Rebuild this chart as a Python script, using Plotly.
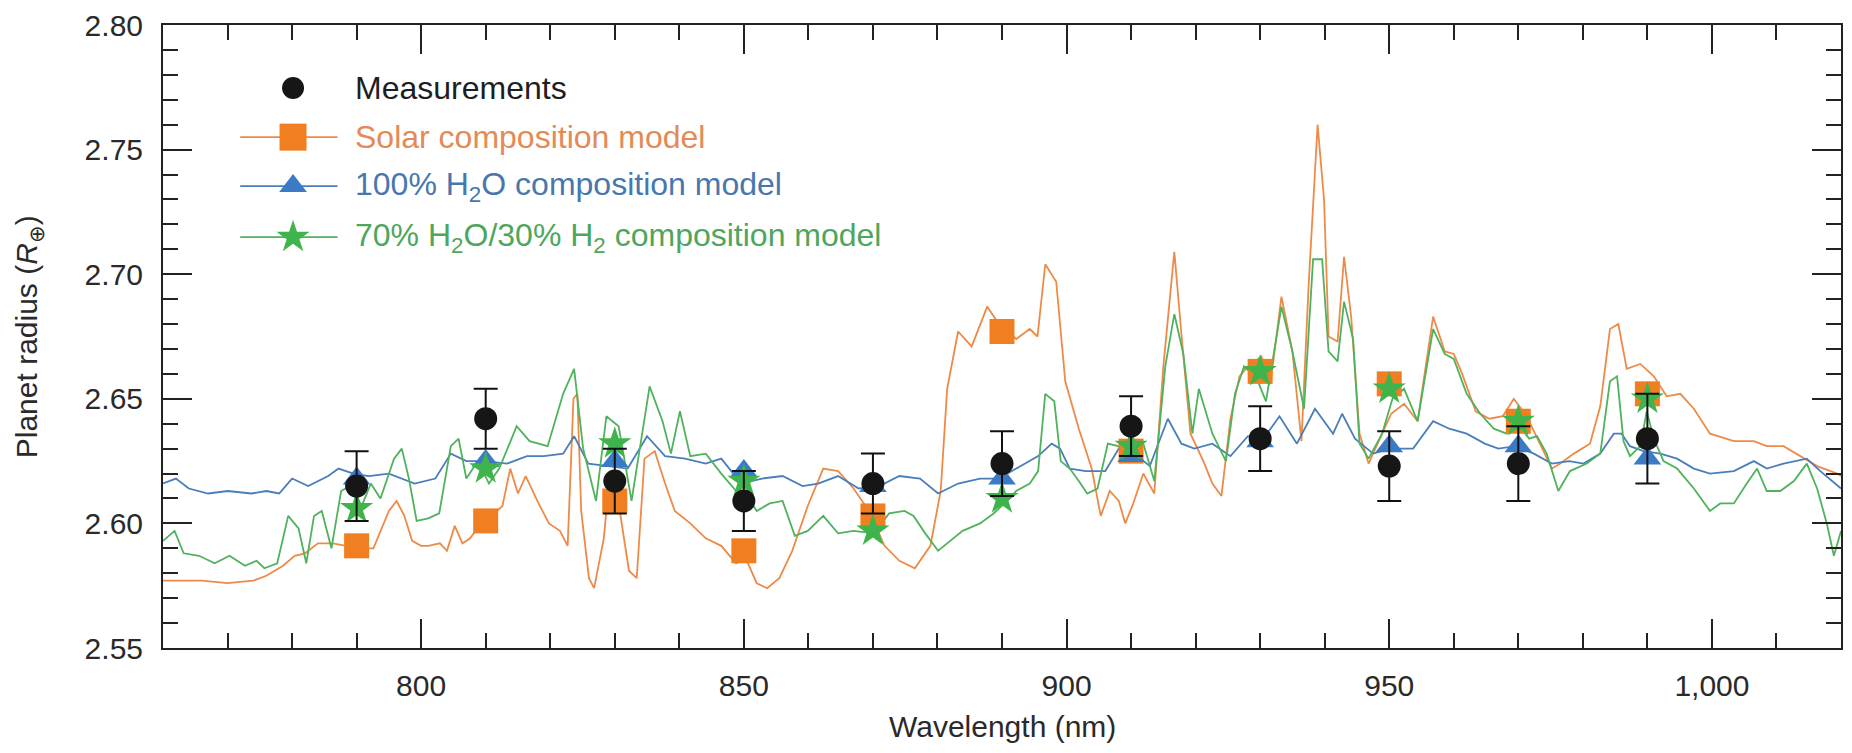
import plotly.graph_objects as go

# ---------------- data ----------------
meas_x = [790, 810, 830, 850, 870, 890, 910, 930, 950, 970, 990]
meas_y = [2.615, 2.642, 2.617, 2.609, 2.616, 2.624, 2.639, 2.634, 2.623, 2.624, 2.634]
meas_err = [0.014, 0.012, 0.013, 0.012, 0.012, 0.013, 0.012, 0.013, 0.014, 0.015, 0.018]

solar_pts = [2.591, 2.601, 2.609, 2.589, 2.603, 2.677, 2.629, 2.661, 2.656, 2.641, 2.652]
h2o_pts = [2.618, 2.625, 2.625, 2.621, 2.615, 2.618, 2.627, 2.633, 2.631, 2.631, 2.626]
mix_pts = [2.606, 2.622, 2.632, 2.617, 2.597, 2.610, 2.631, 2.661, 2.654, 2.641, 2.650]

solar_wl = [760, 766, 770, 774, 776, 778.6, 780.4, 782, 784, 786.3, 788.4, 790.5, 792.6, 795, 796.2,
            797.4, 798.6, 800, 801.1, 802.9, 804, 805.2, 806.4, 807.6, 809.2, 810.9, 812.6, 813.8, 815,
            816.2, 818, 819.8, 821.5, 822.7, 823.6, 824.2, 824.8, 826, 826.8, 828.3, 829.1, 830.6, 832.2,
            833.4, 834.6, 836.2, 837.8, 839.3, 841.7, 844.1, 846.5, 848.8, 850.3, 852, 853.6, 855.5, 857.5,
            859.9, 862.3, 864.6, 867, 869.4, 871.8, 874.1, 876.5, 878.9, 880.5, 881.5, 883.2, 885.3, 887.7,
            889, 890.5, 892.2, 894.3, 895.5, 896.7, 898.4, 899.8, 901.9, 903.9, 905.3, 906.7, 908.1, 909.1,
            910.2, 911.9, 913.6, 915, 916.7, 917.8, 919.2, 921.2, 922.6, 924, 925.4, 926.8, 928.1, 930.2,
            931.6, 933.3, 935, 936.4, 937.5, 938.9, 939.9, 940.6, 942, 943, 944.1, 945.4, 946.8, 948.9,
            950.3, 952.3, 954.4, 956.8, 958.6, 960, 961.3, 963.4, 965.5, 967.6, 969.3, 971.3, 973.1, 975.2,
            976.5, 978.6, 981.1, 982.7, 984.2, 985.5, 986.8, 988.9, 991, 993, 995.1, 997.2, 999.7, 1003.4,
            1006.5, 1008.5, 1011.1, 1013.7, 1016.3, 1019.4, 1020]
solar_r = [2.577, 2.577, 2.576, 2.577, 2.579, 2.583, 2.587, 2.588, 2.592, 2.592, 2.591, 2.590, 2.590, 2.605, 2.609,
           2.603, 2.593, 2.591, 2.591, 2.592, 2.589, 2.599, 2.592, 2.594, 2.600, 2.603, 2.607, 2.622, 2.612,
           2.619, 2.609, 2.600, 2.597, 2.591, 2.650, 2.652, 2.605, 2.578, 2.574, 2.594, 2.616, 2.608, 2.581,
           2.578, 2.626, 2.629, 2.616, 2.605, 2.600, 2.594, 2.591, 2.584, 2.586, 2.576, 2.574, 2.578, 2.589,
           2.607, 2.622, 2.621, 2.614, 2.605, 2.591, 2.585, 2.582, 2.591, 2.613, 2.654, 2.677, 2.671, 2.687,
           2.682, 2.678, 2.674, 2.678, 2.675, 2.704, 2.697, 2.657, 2.638, 2.622, 2.603, 2.613, 2.609, 2.600,
           2.607, 2.620, 2.612, 2.663, 2.709, 2.676, 2.636, 2.625, 2.616, 2.611, 2.642, 2.659, 2.663, 2.667,
           2.656, 2.691, 2.669, 2.633, 2.695, 2.760, 2.730, 2.675, 2.673, 2.707, 2.683, 2.636, 2.624, 2.636,
           2.644, 2.648, 2.641, 2.683, 2.669, 2.668, 2.660, 2.645, 2.642, 2.643, 2.650, 2.643, 2.633, 2.622,
           2.624, 2.628, 2.632, 2.647, 2.678, 2.680, 2.662, 2.664, 2.659, 2.651, 2.652, 2.646, 2.636, 2.633,
           2.633, 2.631, 2.631, 2.627, 2.623, 2.620, 2.619]

h2o_wl = [760, 762, 764, 767, 770, 773.7, 776, 778, 780, 782.5, 785.6, 787.2, 789.5, 791.9, 795, 797, 799,
          802.2, 804.6, 807, 810, 813.3, 816.4, 819, 822, 823.7, 825.9, 829, 832, 835, 837.8, 840.9, 844.1,
          846.5, 849.6, 852.8, 856, 859.1, 861.5, 864.6, 867.8, 871, 874.1, 877.3, 880.1, 883.2, 886.6,
          889.5, 892.9, 895.6, 897.7, 899, 900.5, 903, 906, 908.1, 910.5, 912.9, 915.7, 917.8, 919.8, 922.6,
          925.4, 928.1, 930.5, 933, 935.7, 938.5, 941.3, 942.7, 944.7, 947.5, 950.3, 953.7, 956.8, 959.3,
          962, 964.8, 966.9, 969.6, 972.4, 975.2, 977.9, 980.1, 982.7, 984.8, 986, 987.3, 989.4, 992, 994.6,
          997.2, 999.7, 1003.4, 1006.5, 1008.5, 1011.1, 1014.7, 1016.8, 1019.4, 1020]
h2o_r = [2.616, 2.618, 2.614, 2.612, 2.613, 2.612, 2.613, 2.612, 2.618, 2.615, 2.619, 2.622, 2.620, 2.619, 2.620,
         2.618, 2.616, 2.618, 2.628, 2.625, 2.625, 2.624, 2.627, 2.627, 2.628, 2.635, 2.624, 2.623, 2.622,
         2.635, 2.627, 2.626, 2.624, 2.626, 2.616, 2.618, 2.619, 2.615, 2.616, 2.619, 2.614, 2.615, 2.619,
         2.618, 2.612, 2.616, 2.618, 2.618, 2.623, 2.627, 2.632, 2.630, 2.622, 2.621, 2.621, 2.630, 2.628,
         2.623, 2.642, 2.632, 2.630, 2.632, 2.627, 2.635, 2.634, 2.643, 2.632, 2.646, 2.636, 2.644, 2.634,
         2.628, 2.630, 2.630, 2.641, 2.638, 2.636, 2.632, 2.630, 2.631, 2.628, 2.624, 2.625, 2.624, 2.628,
         2.636, 2.636, 2.631, 2.629, 2.628, 2.626, 2.622, 2.620, 2.621, 2.625, 2.622, 2.624, 2.626, 2.621,
         2.615, 2.614]

mix_wl = [760, 761.8, 763.2, 765.6, 768, 770.3, 772.7, 774.5, 775.7, 777.7, 779.4, 781, 782.2, 783.4, 784.6,
          786.1, 787.6, 789, 790.8, 792.2, 793.7, 795.8, 797, 798.1, 799.3, 801.1, 802.8, 804.6, 805.8, 807,
          808.8, 810.5, 812.1, 814.8, 816.8, 819.6, 822, 823.7, 825.1, 827.1, 828.7, 830.6, 832.6, 835.4,
          837.4, 838.7, 840.1, 841.7, 844.1, 846.5, 848.8, 850.5, 852, 854, 856, 857.9, 859.9, 862.3, 864.6,
          867, 870.2, 872.5, 874.9, 876.3, 878.1, 880.1, 881.5, 883.9, 886.6, 888.7, 890.8, 892.2, 894.3,
          895.6, 896.7, 898.1, 899.1, 900.5, 901.9, 903.2, 904.8, 906.4, 908, 910.2, 911.9, 913.6, 915.3,
          916.7, 918.1, 919.5, 920.5, 922.6, 924.7, 926.1, 927.5, 929.5, 930.9, 933.3, 935, 936.8, 938.2,
          939.6, 940.6, 942, 943, 944.4, 945.4, 946.8, 948.9, 950.5, 952.3, 954.4, 956.8, 958.6, 960, 962,
          964.1, 966.2, 968.2, 969.8, 971.7, 972.9, 974.4, 976.2, 978, 980.6, 982.7, 984.2, 985.3, 986.3,
          987.3, 988.9, 989.9, 991, 992.5, 994.6, 997.2, 999.7, 1001.3, 1003.4, 1005.4, 1007, 1008.5, 1010.6,
          1012.7, 1014.7, 1016.3, 1017.8, 1018.9, 1020]
mix_r = [2.593, 2.597, 2.588, 2.587, 2.584, 2.587, 2.583, 2.585, 2.582, 2.584, 2.603, 2.598, 2.584, 2.603, 2.605,
         2.590, 2.613, 2.615, 2.607, 2.616, 2.610, 2.626, 2.630, 2.618, 2.601, 2.602, 2.604, 2.631, 2.634, 2.618,
         2.625, 2.616, 2.622, 2.639, 2.633, 2.631, 2.652, 2.662, 2.630, 2.609, 2.643, 2.639, 2.609, 2.655,
         2.641, 2.628, 2.645, 2.627, 2.628, 2.620, 2.613, 2.611, 2.605, 2.608, 2.609, 2.595, 2.597, 2.603, 2.596,
         2.597, 2.596, 2.604, 2.605, 2.603, 2.596, 2.589, 2.592, 2.597, 2.600, 2.604, 2.609, 2.613, 2.616,
         2.621, 2.652, 2.649, 2.625, 2.622, 2.617, 2.612, 2.614, 2.632, 2.631, 2.625, 2.632, 2.617, 2.663,
         2.684, 2.668, 2.636, 2.654, 2.636, 2.625, 2.652, 2.663, 2.658, 2.649, 2.687, 2.669, 2.646, 2.706,
         2.706, 2.669, 2.665, 2.689, 2.674, 2.632, 2.626, 2.636, 2.650, 2.654, 2.641, 2.678, 2.668, 2.666, 2.652,
         2.644, 2.638, 2.636, 2.640, 2.634, 2.635, 2.628, 2.613, 2.621, 2.624, 2.628, 2.657, 2.659, 2.633,
         2.627, 2.631, 2.645, 2.634, 2.625, 2.622, 2.614, 2.605, 2.608, 2.608, 2.616, 2.622, 2.613, 2.613,
         2.617, 2.624, 2.614, 2.600, 2.587, 2.597]

legend_labels = ["Measurements", "Solar composition model",
                 "100% H<sub>2</sub>O composition model",
                 "70% H<sub>2</sub>O/30% H<sub>2</sub> composition model"]
x_title = "Wavelength (nm)"
y_title = "Planet radius (<i>R</i><sub>⊕</sub>)"

# ---------------- style ----------------
C_SOLAR_LINE = "#EE8A48"
C_H2O_LINE = "#4A7EBB"
C_MIX_LINE = "#4FB25C"
C_SOLAR_MK = "#F07F22"
C_H2O_MK = "#3B7BC6"
C_MIX_MK = "#3FB44C"
C_MEAS = "#161616"
TXT_COLORS = ["#1E1E1E", "#E38A55", "#4777AE", "#4EA65C"]
FONT = "Liberation Sans, Arial, Helvetica, sans-serif"
TXT = "#2a2a2a"

fig = go.Figure()

# model spectra
fig.add_trace(go.Scatter(x=solar_wl, y=solar_r, mode="lines", line=dict(color=C_SOLAR_LINE, width=1.8), showlegend=False))
fig.add_trace(go.Scatter(x=h2o_wl, y=h2o_r, mode="lines", line=dict(color=C_H2O_LINE, width=1.8), showlegend=False))
fig.add_trace(go.Scatter(x=mix_wl, y=mix_r, mode="lines", line=dict(color=C_MIX_LINE, width=1.8), showlegend=False))

# binned model points
fig.add_trace(go.Scatter(x=meas_x, y=solar_pts, mode="markers",
                         marker=dict(symbol="square", size=25, color=C_SOLAR_MK), showlegend=False))
fig.add_trace(go.Scatter(x=meas_x, y=h2o_pts, mode="markers",
                         marker=dict(symbol="triangle-up", size=24, color=C_H2O_MK), showlegend=False))
fig.add_trace(go.Scatter(x=meas_x, y=mix_pts, mode="markers",
                         marker=dict(symbol="star", size=25, color=C_MIX_MK), showlegend=False))

# measurements
fig.add_trace(go.Scatter(x=meas_x, y=meas_y, mode="markers",
                         marker=dict(symbol="circle", size=23, color=C_MEAS),
                         error_y=dict(type="data", array=meas_err, visible=True, color="#111111",
                                      thickness=2, width=12),
                         showlegend=False))

# ---------------- custom legend (overlay axes in plot-fraction units) ----------------
leg_line_x = [0.046, 0.0775, 0.104]
leg_rows_y = [0.899, 0.820, 0.7415, 0.6595]
leg_text_x = 0.113
leg_specs = [
    (None, "circle", 22, C_MEAS),
    (C_SOLAR_LINE, "square", 27, C_SOLAR_MK),
    (C_H2O_LINE, "triangle-up", 24, C_H2O_MK),
    (C_MIX_LINE, "star", 25, C_MIX_MK),
]
for (lc, sym, sz, mc), yy in zip(leg_specs, leg_rows_y):
    if lc is not None:
        fig.add_trace(go.Scatter(x=[leg_line_x[0], leg_line_x[2]], y=[yy, yy], mode="lines",
                                 line=dict(color=lc, width=1.8), xaxis="x2", yaxis="y2",
                                 showlegend=False, hoverinfo="skip"))
    fig.add_trace(go.Scatter(x=[leg_line_x[1]], y=[yy], mode="markers",
                             marker=dict(symbol=sym, size=sz, color=mc), xaxis="x2", yaxis="y2",
                             showlegend=False, hoverinfo="skip"))

annotations = []
for lab, col, yy in zip(legend_labels, TXT_COLORS, leg_rows_y):
    annotations.append(dict(x=leg_text_x, y=yy, xref="paper", yref="paper", text=lab,
                            showarrow=False, xanchor="left", yanchor="middle",
                            font=dict(family=FONT, size=32, color=col)))
# axis titles
annotations.append(dict(x=0.5, y=-0.126, xref="paper", yref="paper", text=x_title, showarrow=False,
                        xanchor="center", yanchor="middle", font=dict(family=FONT, size=30, color=TXT)))
annotations.append(dict(x=-0.08, y=0.5, xref="paper", yref="paper", text=y_title, showarrow=False,
                        textangle=-90, xanchor="center", yanchor="middle",
                        font=dict(family=FONT, size=30, color=TXT)))

axis_common = dict(
    showline=True, linecolor="#222222", linewidth=2, mirror="allticks",
    ticks="inside", tickcolor="#222222", tickwidth=2, ticklen=29,
    showgrid=False, zeroline=False, automargin=False,
    tickfont=dict(family=FONT, size=30, color=TXT),
)

# the page body adds an 8 px offset; the figure is sized so it fits the window exactly
fig.update_layout(
    width=1836, height=737,
    margin=dict(l=155, r=3, t=17, b=97, autoexpand=False),
    paper_bgcolor="white", plot_bgcolor="white",
    font=dict(family=FONT, color=TXT),
    xaxis=dict(range=[760, 1020], dtick=50, tick0=800, tickformat=",d",
               minor=dict(dtick=10, tick0=760, ticks="inside", ticklen=15, tickwidth=2, tickcolor="#222222"),
               ticklabelstandoff=10,
               **axis_common),
    yaxis=dict(range=[2.55, 2.80], dtick=0.05, tick0=2.55, tickformat=".2f",
               minor=dict(dtick=0.01, ticks="inside", ticklen=15, tickwidth=2, tickcolor="#222222"),
               ticklabelstandoff=12,
               **axis_common),
    xaxis2=dict(range=[0, 1], overlaying="x", visible=False, fixedrange=True, automargin=False),
    yaxis2=dict(range=[0, 1], overlaying="y", visible=False, fixedrange=True, automargin=False),
    annotations=annotations,
    showlegend=False,
)

fig.write_html("out.html")
